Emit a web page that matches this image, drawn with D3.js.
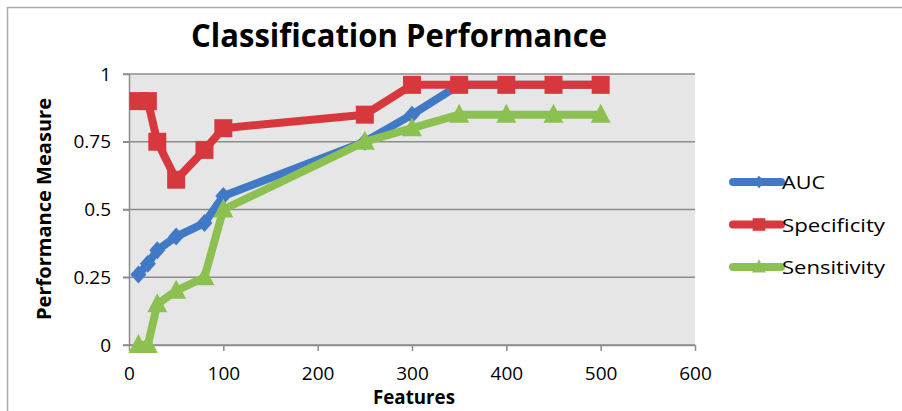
<!DOCTYPE html>
<html>
<head>
<meta charset="utf-8">
<script src="https://cdn.jsdelivr.net/npm/d3@7"></script>
<style>
  body { margin: 0; background: #fff; }
  text { font-family: "Open Sans", "Noto Sans", sans-serif; }
</style>
</head>
<body>
<script>
const features = [10, 20, 30, 50, 80, 100, 250, 300, 350, 400, 450, 500];
const auc = [0.26, 0.30, 0.35, 0.40, 0.45, 0.55, 0.75, 0.85, 0.96, 0.96, 0.96, 0.96];
const specificity = [0.90, 0.90, 0.75, 0.61, 0.72, 0.80, 0.85, 0.96, 0.96, 0.96, 0.96, 0.96];
const sensitivity = [0, 0, 0.15, 0.20, 0.25, 0.50, 0.75, 0.80, 0.85, 0.85, 0.85, 0.85];
const xTicks = [0, 100, 200, 300, 400, 500, 600];
const yTicks = [0, 0.25, 0.5, 0.75, 1];
const yTickLabels = ["0", "0.25", "0.5", "0.75", "1"];

const series = [
  {name: "AUC", values: auc, color: "#4079c6", marker: "diamond", len: 43},
  {name: "Specificity", values: specificity, color: "#d7383e", marker: "square", len: 103},
  {name: "Sensitivity", values: sensitivity, color: "#8cc152", marker: "triangle", len: 103}
];

const width = 902, height = 411;
const plot = {left: 129, right: 695, top: 74, bottom: 345};

const svg = d3.select("body").append("svg")
  .attr("width", width)
  .attr("height", height);

// chart frame
svg.append("rect")
  .attr("x", 7.5).attr("y", 7.5)
  .attr("width", width).attr("height", height)
  .attr("fill", "#fff")
  .attr("stroke", "#aaa")
  .attr("stroke-width", 1.5);

const x = d3.scaleLinear().domain([0, 600]).range([plot.left, plot.right]);
const y = d3.scaleLinear().domain([0, 1]).range([plot.bottom, plot.top]);

// plot background
svg.append("rect")
  .attr("x", plot.left).attr("y", plot.top)
  .attr("width", plot.right - plot.left)
  .attr("height", plot.bottom - plot.top)
  .attr("fill", "#e6e6e6");

// gridlines
svg.append("g")
  .selectAll("line")
  .data(yTicks)
  .enter().append("line")
  .attr("x1", plot.left - 6).attr("x2", plot.right)
  .attr("y1", d => y(d)).attr("y2", d => y(d))
  .attr("stroke", "#8c8c8c")
  .attr("stroke-width", 1.5);

// axes
const xAxis = d3.axisBottom(x).tickValues(xTicks).tickSize(6).tickSizeOuter(0).tickPadding(14);
const yAxis = d3.axisLeft(y).tickValues(yTicks).tickSize(6).tickSizeOuter(0).tickPadding(12)
  .tickFormat((d, i) => yTickLabels[i]);

const gx = svg.append("g")
  .attr("transform", "translate(0," + plot.bottom + ")")
  .call(xAxis);
const gy = svg.append("g")
  .attr("transform", "translate(" + plot.left + ",0)")
  .call(yAxis);

[gx, gy].forEach(function(g) {
  g.select(".domain").attr("stroke", "#8c8c8c").attr("stroke-width", 1.5);
  g.selectAll(".tick line").attr("stroke", "#8c8c8c").attr("stroke-width", 1.5);
  g.selectAll(".tick text")
    .attr("fill", "#000")
    .style("font-size", "19px")
    .style("font-family", "'Open Sans', sans-serif");
});
gx.selectAll(".tick text").attr("dy", "0.8em");

// lines and markers
const line = d3.line()
  .x((d, i) => x(features[i]))
  .y(d => y(d));

function markerPath(type) {
  if (type === "square") return "M-9,-9H9V9H-9Z";
  if (type === "triangle") return "M0,-11L10,8H-10Z";
  return "M0,-9L8,0L0,9L-8,0Z";
}

series.forEach(function(s) {
  const g = svg.append("g");
  g.append("path")
    .datum(s.values)
    .attr("d", line)
    .attr("fill", "none")
    .attr("stroke", s.color)
    .attr("stroke-width", 8)
    .attr("stroke-linejoin", "round");
  g.selectAll("path.mark")
    .data(s.values)
    .enter().append("path")
    .attr("class", "mark")
    .attr("transform", (d, i) => "translate(" + x(features[i]) + "," + y(d) + ")")
    .attr("d", markerPath(s.marker))
    .attr("fill", s.color);
});

// title
svg.append("text")
  .attr("x", 399).attr("y", 47)
  .attr("text-anchor", "middle")
  .attr("textLength", 416)
  .attr("lengthAdjust", "spacingAndGlyphs")
  .style("font-size", "32px")
  .style("font-weight", "bold")
  .text("Classification Performance");

// axis titles
svg.append("text")
  .attr("x", 414).attr("y", 404)
  .attr("text-anchor", "middle")
  .attr("textLength", 82)
  .attr("lengthAdjust", "spacingAndGlyphs")
  .style("font-size", "19px")
  .style("font-weight", "bold")
  .text("Features");

svg.append("text")
  .attr("transform", "translate(51,209) rotate(-90)")
  .attr("text-anchor", "middle")
  .attr("textLength", 222)
  .attr("lengthAdjust", "spacingAndGlyphs")
  .style("font-size", "19px")
  .style("font-weight", "bold")
  .text("Performance Measure");

// legend
const legend = svg.append("g")
  .selectAll("g")
  .data(series)
  .enter().append("g")
  .attr("transform", (d, i) => "translate(733," + (182 + i * 42.5) + ")");

legend.append("line")
  .attr("x1", 0).attr("x2", 48)
  .attr("stroke", d => d.color)
  .attr("stroke-width", 8)
  .attr("stroke-linecap", "round");

legend.append("path")
  .attr("transform", "translate(26,0) scale(0.7)")
  .attr("d", d => markerPath(d.marker))
  .attr("fill", d => d.color);

legend.append("text")
  .attr("x", 49).attr("y", 7)
  .attr("textLength", d => d.len)
  .attr("lengthAdjust", "spacingAndGlyphs")
  .style("font-size", "19px")
  .text(d => d.name);
</script>
</body>
</html>
